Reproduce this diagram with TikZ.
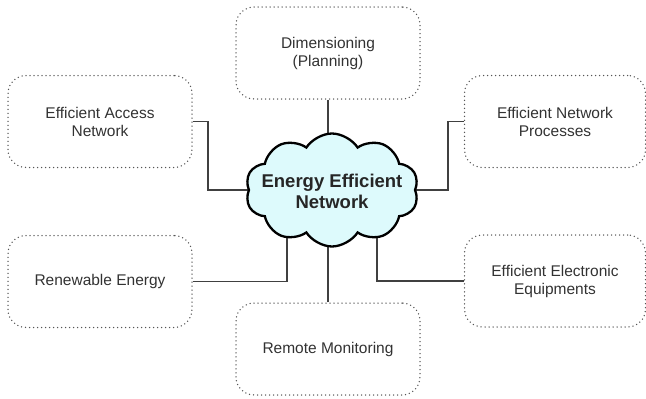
\documentclass[tikz,border=0pt]{standalone}
\usepackage{fontspec}
\setmainfont{Liberation Sans}
\usetikzlibrary{shapes.symbols,backgrounds,calc}
\definecolor{cloudfill}{RGB}{221,250,252}
\definecolor{boxtext}{RGB}{50,50,50}
\definecolor{linecol}{RGB}{64,64,64}
\definecolor{dotcol}{RGB}{85,85,85}
\tikzset{
  topicbox/.style={draw=dotcol, line width=1.5pt, line cap=round,
    dash pattern=on 0pt off 4pt, rounded corners=18pt,
    minimum width=184pt, minimum height=92pt, align=center,
    text=boxtext, font=\fontsize{15.5}{18}\selectfont},
  link/.style={draw=linecol, line width=1.5pt},
  cloudbox/.style={cloud, cloud puffs=10, cloud puff arc=115, aspect=1.5,
    draw=black, line width=2.3pt, fill=cloudfill, inner sep=0pt,
    minimum width=173pt, minimum height=113pt},
  cloudtext/.style={align=center, inner sep=0pt,
    text=black!85, font=\fontsize{18.5}{21}\selectfont\bfseries}
}
\begin{document}
\begin{tikzpicture}[x=1pt,y=-1pt]
\useasboundingbox (0,0) rectangle (646,399);
\node[cloudbox] (cloud) at (332,190) {};
\node[cloudtext] (title) at (332,191) {Energy Efficient\\Network};
\node[topicbox] (dim) at (328,53) {Dimensioning\\(Planning)};
\node[topicbox] (access) at (100,121.5) {Efficient Access\\Network};
\node[topicbox, minimum width=181pt] (proc) at (555,121.5) {Efficient Network\\Processes};
\node[topicbox] (renew) at (100,281.5) {Renewable Energy};
\node[topicbox, minimum width=181pt] (equip) at (555,281) {Efficient Electronic\\Equipments};
\node[topicbox] (remote) at (328,349) {Remote Monitoring};
\begin{scope}[on background layer]
\draw[link] (dim.south) -- (dim.south |- cloud.center);
\draw[link] (remote.north) -- (remote.north |- cloud.center);
\draw[link] (access.east) -| ($(cloud.center)+(-124,0)$) -- (cloud.center);
\draw[link] (proc.west) -| ($(cloud.center)+(116,0)$) -- (cloud.center);
\draw[link] (renew.east) -| ($(cloud.center)+(-45,0)$);
\draw[link] (equip.west) -| ($(cloud.center)+(45,0)$);
\end{scope}
\end{tikzpicture}
\end{document}
